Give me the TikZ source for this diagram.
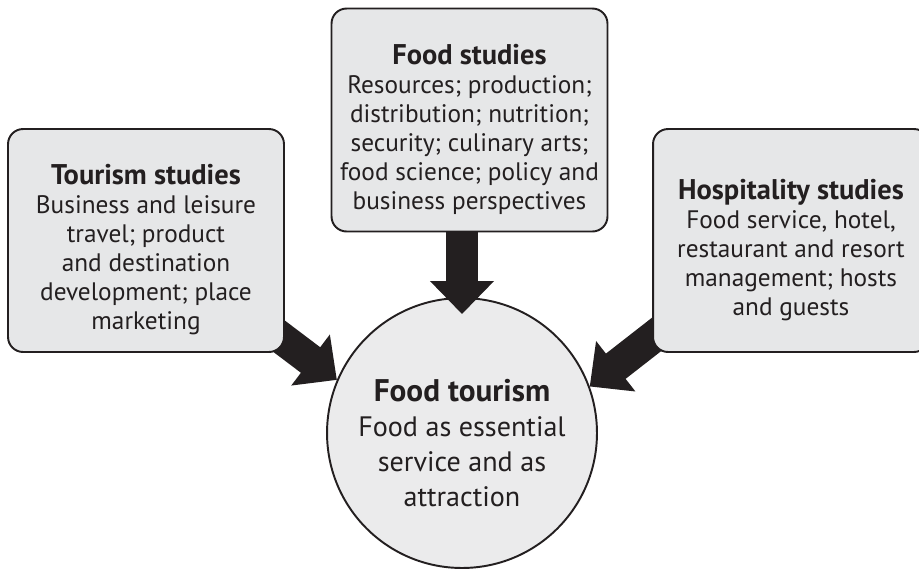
\documentclass[tikz,border=0pt]{standalone}
\usepackage{fontspec}
\setmainfont{PT Sans}
\usetikzlibrary{arrows.meta,positioning,calc}
\definecolor{ink}{HTML}{231F20}
\definecolor{panelfill}{HTML}{E6E7E8}
\definecolor{hubfill}{HTML}{EBEBEC}
\newcommand{\paneltitle}[1]{{\fontsize{16.2}{16.5}\selectfont\bfseries\rule{0pt}{22pt}#1}}
\newcommand{\hubtitle}[1]{{\fontsize{17.8}{20}\selectfont\bfseries\rule{0pt}{24pt}#1}}
\pgfdeclarelayer{front}
\pgfsetlayers{main,front}

\begin{document}
\begin{tikzpicture}[x=0.02cm,y=-0.02cm,
    panel/.style={draw=ink,line width=1.1pt,fill=panelfill,rounded corners=0.3cm,
      minimum width=5.52cm,minimum height=4.46cm,align=center,text=ink,
      font=\fontsize{14.4}{16.5}\selectfont,inner sep=0pt},
    hub/.style={circle,draw=ink,line width=1.1pt,fill=hubfill,minimum size=5.4cm,
      align=center,text=ink,font=\fontsize{16}{20}\selectfont,inner sep=0pt},
    bigarrow/.style={ink,line width=0.64cm,-{Triangle[length=0.66cm,width=1.24cm]}}]
        \clip (0,0) rectangle (919,569);
        \node [hub] (hub) at (462,433) {\hubtitle{Food tourism}\\Food as essential\\service and as\\attraction};
        \begin{pgfonlayer}{front}
          \node [panel] (tourism) at (146,240.5) {\paneltitle{Tourism studies}\\Business and leisure\\travel; product\\and destination\\development; place\\marketing};
          \node [panel] (food) at (469.5,120) {\paneltitle{Food studies}\\Resources; production;\\distribution; nutrition;\\security; culinary arts;\\food science; policy and\\business perspectives};
          \node [panel] (hosp) at (791,240.5) {\paneltitle{Hospitality studies}\\Food service, hotel,\\restaurant and resort\\management; hosts\\and guests};
        \end{pgfonlayer}
        \draw [bigarrow] ($(food.south -| hub)+(0,-4)$) -- ($(hub.north)+(0,17)$);
        \draw [bigarrow] ($(tourism.south east)+(-34,-38)$) -- (hub.157.8);
        \draw [bigarrow] ($(hosp.south west)+(25,-34.5)$) -- (hub.20.4);
      \end{tikzpicture}
\end{document}
